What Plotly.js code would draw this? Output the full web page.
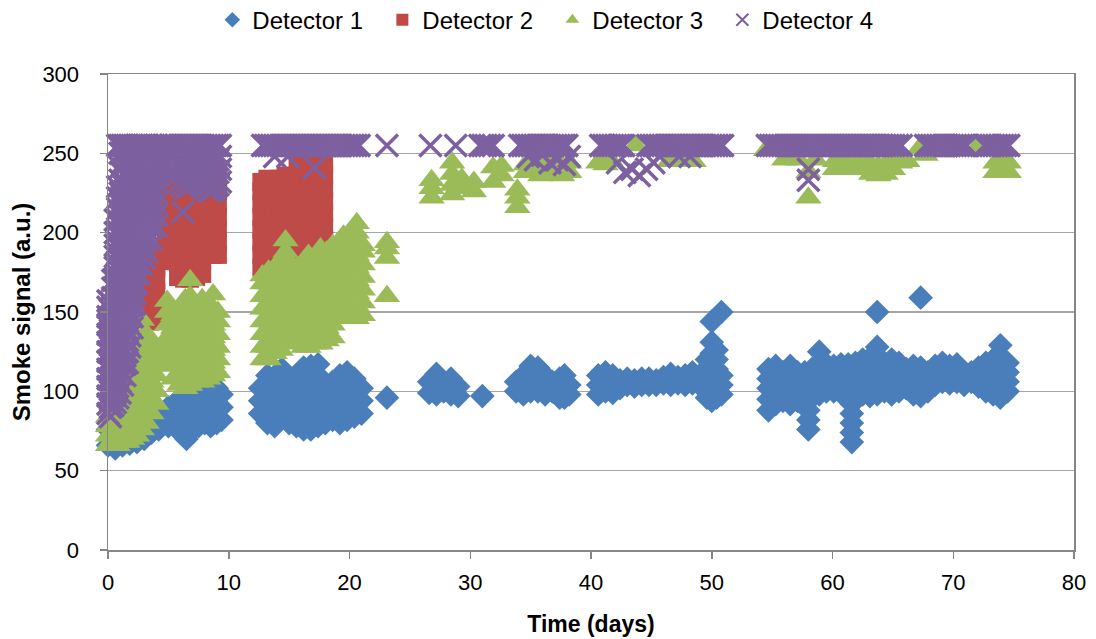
<!DOCTYPE html>
<html>
<head>
<meta charset="utf-8">
<script src="https://cdn.plot.ly/plotly-3.0.1.min.js"></script>
<style>
  html, body { margin: 0; padding: 0; background: #fff; }
  #chart { width: 1096px; height: 639px; }
</style>
</head>
<body>
<div id="chart"></div>
<script>
// ---- Data (time in days, smoke signal in a.u.) ----
// Each entry of detNDays is a time; the matching entry of detNSignal lists the readings at that time.

const det1Days = [
  0.0, 0.6, 1.2, 1.8, 2.4, 3.0, 3.6, 4.2,
  5.0, 5.5, 6.0, 6.5, 7.0, 7.5, 8.0, 8.5, 9.0, 9.4,
  12.6, 13.2, 13.8, 14.4, 15.0, 15.6, 16.2, 16.8, 17.4, 18.0, 18.6, 19.2, 19.8, 20.4, 21.0, 23.1,
  26.6, 27.2, 27.8, 28.4, 29.0, 31.0,
  33.8, 34.4, 35.0, 35.6, 36.2, 36.8, 37.4, 37.8, 38.2,
  40.6, 41.2, 41.8, 42.4, 43.0, 43.6, 44.2, 44.8, 45.4, 46.0, 46.6, 47.2, 47.8, 48.4, 49.0, 49.6, 50.0, 50.4, 50.8,
  54.7, 55.3, 55.9, 56.5, 57.1, 57.7, 58.0, 58.3, 58.9, 59.5, 60.1, 60.7, 61.3, 61.6, 61.9, 62.5, 63.1, 63.7,
  64.3, 64.9, 65.5, 66.1, 66.7, 67.3, 67.9, 68.5, 69.1, 69.7, 70.3, 70.9, 71.5, 72.1, 72.7, 73.3, 73.9, 74.5
];
const det1Signal = [
  [66, 76], [64, 70], [66, 72], [67, 72], [68, 74], [70, 76, 82], [74, 80, 86], [76, 82, 88],
  [78, 84, 90], [80, 86, 92], [74, 82, 90, 96], [70, 78, 86, 94], [76, 84, 92, 98], [78, 86, 94, 100],
  [80, 88, 96, 102], [78, 86, 94, 101], [80, 88, 96, 102], [82, 90, 98],
  [86, 94, 102], [80, 88, 96, 104, 110], [78, 85, 92, 100, 108], [84, 92, 100, 108, 114], [80, 88, 96, 104],
  [78, 86, 94, 102, 110], [76, 84, 92, 100, 108, 115], [76, 84, 92, 100, 108, 116], [78, 86, 94, 102, 110, 117],
  [80, 88, 96, 104], [82, 90, 98, 106], [80, 88, 96, 104, 110], [82, 90, 98, 106, 112], [84, 92, 100, 108],
  [86, 94, 102], [96],
  [99, 106], [98, 104, 111], [100, 106], [98, 104, 108], [97, 103], [97],
  [100, 106], [98, 104, 110], [100, 106, 112, 116], [100, 106, 112, 115], [98, 104, 110], [100, 106],
  [96, 102, 108], [96, 102, 110], [98, 104],
  [98, 104, 110], [100, 106, 112], [99, 105, 110], [102, 107], [104, 108], [103, 107], [104, 108], [104, 108],
  [104, 107], [105, 109], [104, 108, 111], [105, 109], [104, 110], [105, 109, 112], [104, 110],
  [96, 102, 108, 114, 120], [94, 100, 106, 112, 118, 124, 131, 144], [96, 102, 108, 114, 120, 126], [98, 104, 110, 150],
  [88, 95, 102, 108, 114], [92, 98, 104, 110, 116], [94, 100, 106, 112], [92, 98, 104, 110, 116], [94, 100, 106, 112],
  [94, 100, 106, 112], [76, 82, 88], [96, 102, 108, 114], [98, 104, 110, 117, 125], [100, 106, 112, 117],
  [100, 106, 112, 116], [99, 105, 111, 117], [98, 104, 110, 117], [68, 74, 80, 86, 92], [100, 106, 112, 118],
  [98, 104, 110, 116, 120], [97, 103, 109, 115, 121], [98, 104, 110, 116, 122, 128, 150],
  [100, 106, 112, 118], [98, 104, 110, 116, 120], [100, 106, 112, 118], [102, 108, 114], [98, 104, 110, 116],
  [97, 103, 109, 115, 159], [100, 106, 112], [104, 110, 116], [106, 112, 118], [105, 110, 116], [106, 112, 117],
  [104, 110], [106, 112], [103, 109, 115], [100, 106, 112, 118], [98, 104, 110, 116, 120],
  [96, 102, 108, 114, 122, 129], [100, 106, 112, 118]
];

const det2Days = [
  0.0, 0.5, 1.0, 1.5, 2.0, 2.5, 3.0, 3.5, 4.0,
  4.8, 5.3, 5.8, 6.3, 6.8, 7.3, 7.8, 8.3, 8.7, 9.1,
  12.7, 13.2, 13.7, 14.2, 14.7, 15.2, 15.7, 16.2, 16.7, 17.2, 17.6, 17.9
];
const det2Signal = [
  [140, 148], [136, 146, 156], [140, 150, 160], [145, 155, 165], [148, 158, 168], [150, 158, 166, 176],
  [146, 154, 162, 170, 178], [144, 152, 160, 168, 176, 184], [146, 154, 162, 170, 178, 186],
  [183, 190, 198, 206, 214, 222, 230], [182, 188, 196, 204, 212, 220, 228, 236],
  [172, 180, 188, 196, 204, 212, 220, 228], [171, 178, 186, 194, 202, 210, 218, 226],
  [171, 178, 186, 194, 202, 210, 218, 226], [172, 180, 188, 196, 204, 212, 220, 228],
  [174, 182, 190, 198, 206, 214, 222, 230], [186, 194, 202, 210, 218, 226, 234],
  [186, 194, 202, 210, 218, 226, 234, 240], [186, 194, 202, 210, 218, 226, 234, 240],
  [178, 186, 194, 202, 210, 218, 226, 232], [180, 188, 196, 204, 212, 220, 228, 234],
  [184, 192, 200, 208, 216, 224, 232], [186, 194, 202, 210, 218, 226, 234],
  [188, 196, 204, 212, 220, 228, 236], [186, 194, 202, 210, 218, 226, 234],
  [188, 196, 204, 212, 220, 228, 236, 242], [190, 198, 206, 214, 222, 230, 238, 242],
  [192, 200, 208, 216, 224, 232, 240], [192, 200, 208, 216, 224, 232, 240],
  [194, 202, 210, 218, 226, 234, 242], [196, 204, 212, 220, 228, 236, 242]
];

const det3Days = [
  0.0, 0.4, 0.8, 1.2, 1.6, 2.0, 2.4, 2.8, 3.2, 3.6, 4.0,
  4.9, 5.4, 5.9, 6.4, 6.8, 7.3, 7.8, 8.3, 8.7, 9.1,
  12.8, 13.3, 13.8, 14.3, 14.7, 15.2, 15.7, 16.2, 16.6, 17.1, 17.6, 18.1, 18.6, 19.1, 19.5, 20.0, 20.6, 21.1, 23.1,
  26.8, 28.5, 29.3, 30.3, 31.9, 32.6, 33.9, 34.6, 35.2, 35.8, 36.0, 36.4, 37.0, 37.6, 38.2,
  40.6, 41.2, 41.6, 43.7, 46.5, 47.0, 47.2, 47.9, 48.5,
  54.5, 56.0, 56.6, 57.0, 57.2, 58.0, 58.6, 60.2, 60.8, 61.4, 62.0, 62.6, 63.0, 63.2, 63.8, 64.4, 65.0,
  65.6, 66.2, 67.2, 67.7, 71.9, 73.5, 74.0, 74.6
];
const det3Signal = [
  [66, 72, 78, 84], [68, 74, 80, 88], [66, 72, 78, 86, 92], [68, 74, 82, 90, 98], [68, 76, 84, 92, 102],
  [70, 78, 86, 96, 106, 116], [72, 80, 90, 100, 110, 120, 130], [76, 84, 94, 104, 114, 124, 134, 145],
  [80, 90, 100, 110, 120, 128, 136], [86, 96, 106, 116, 124, 132], [92, 100, 110, 118, 126],
  [118, 126, 134, 142, 150, 157], [108, 116, 124, 132, 140, 148], [104, 112, 120, 128, 136, 146, 152],
  [102, 110, 118, 126, 134, 142, 150, 158], [104, 112, 120, 128, 136, 144, 152, 160, 170],
  [106, 114, 122, 130, 138, 146, 154], [106, 114, 122, 130, 138, 146, 154, 158],
  [108, 116, 124, 132, 140, 148, 156], [110, 118, 126, 134, 142, 150, 161], [112, 120, 128, 136, 144, 150],
  [120, 128, 136, 144, 152, 160, 168, 173], [120, 128, 136, 144, 152, 160, 168, 176],
  [124, 132, 140, 148, 156, 164, 172, 178], [126, 134, 142, 150, 158, 166, 174, 182],
  [132, 140, 148, 156, 164, 172, 180, 188, 195], [132, 140, 148, 156, 164, 172, 180],
  [130, 138, 146, 154, 162, 170, 178], [128, 136, 144, 152, 160, 168, 176, 182],
  [128, 136, 144, 152, 160, 168, 176, 186], [130, 138, 146, 154, 162, 170, 178, 184],
  [130, 138, 146, 154, 162, 170, 178, 186, 190], [132, 140, 148, 156, 164, 172, 180, 188],
  [134, 142, 150, 158, 166, 174, 182, 192], [146, 154, 162, 170, 178, 186, 194],
  [148, 156, 164, 172, 180, 188, 198], [146, 154, 162, 170, 178, 186, 194, 200],
  [146, 154, 162, 170, 178, 186, 194, 200, 206], [148, 156, 164, 172, 180, 188, 192], [160, 184, 190, 194],
  [222, 228, 233], [224, 230, 237, 244], [228, 234], [226, 232], [232, 241], [236, 242], [216, 222, 227],
  [238, 243], [240, 246], [236, 242], [255], [238, 244], [240, 246], [236, 242], [238, 244],
  [244], [243], [246], [255], [245], [255], [245], [246], [245],
  [252], [246], [247], [255], [246], [222, 238], [246], [240, 245], [240, 246], [240, 245], [241, 246],
  [240, 245], [255], [237, 243], [236, 242], [237, 243], [240, 245],
  [244], [245], [253], [249], [253], [238, 244], [239, 245], [238, 244]
];

const det4Days = [
  0.0, 0.2, 0.4, 0.6, 0.8, 1.0, 1.2, 1.4, 1.6, 1.8, 2.0, 2.2, 2.4, 2.6, 2.8, 3.0, 3.2, 3.6, 4.0,
  4.4, 4.65, 4.9, 5.15, 5.4, 5.65, 5.9, 6.15, 6.2, 6.4, 6.65, 6.9, 7.15, 7.4, 7.65, 7.9, 8.15, 8.4, 8.65, 8.9, 9.1, 9.3,
  12.8, 13.3, 13.8, 14.3, 14.8, 14.9, 15.3, 15.8, 16.3, 16.8, 17.1, 17.3, 17.8, 18.3, 18.8, 19.3, 19.8, 20.3, 20.8, 23.1,
  26.7, 28.8, 30.8, 31.3, 31.9, 34.1, 34.6, 34.8, 35.1, 35.4, 35.6, 36.0, 36.1, 36.6, 37.1, 37.2, 37.6, 37.8, 38.0, 38.2,
  40.8, 41.3, 41.8, 42.2, 42.3, 42.7, 42.8, 43.4, 44.0, 44.6, 44.7, 45.2, 45.7, 46.2, 46.7, 47.2, 47.3, 47.7,
  48.2, 48.7, 49.2, 49.7, 50.2, 50.7, 50.9,
  54.6, 55.1, 55.6, 56.1, 56.6, 57.1, 57.6, 58.0, 58.1, 58.6, 59.1, 59.6, 60.1, 60.6, 61.1, 61.6, 62.1, 62.6,
  63.1, 63.6, 64.1, 64.6, 65.1, 65.7, 67.7, 68.2, 68.7, 69.2, 69.7, 70.2, 70.7, 71.1, 72.6, 73.1, 73.6, 74.1, 74.6
];
const det4Signal = [
  [86, 92, 97, 103, 108, 114, 119, 125, 131, 136, 142, 147, 153, 157],
  [84, 90, 95, 101, 107, 112, 118, 124, 129, 135, 140, 146, 151, 156],
  [91, 97, 102, 108, 114, 119, 125, 131, 137, 142, 148, 153, 159, 165, 170],
  [93, 99, 106, 112, 119, 126, 132, 139, 145, 152, 158, 165, 171, 178, 185, 192, 200, 208],
  [96, 103, 110, 117, 124, 131, 138, 145, 152, 159, 166, 173, 180, 187, 194, 201, 208, 215, 222, 229, 255],
  [99, 106, 113, 120, 127, 134, 141, 148, 155, 162, 169, 176, 183, 190, 197, 204, 211, 218, 225, 233, 241, 250, 255],
  [104, 111, 118, 125, 132, 139, 146, 153, 160, 167, 174, 181, 188, 195, 202, 209, 216, 223, 230, 237, 244, 250, 255],
  [110, 117, 124, 131, 138, 145, 152, 159, 166, 173, 180, 187, 194, 201, 208, 215, 222, 229, 236, 243, 249, 255],
  [118, 125, 132, 139, 146, 153, 160, 167, 174, 181, 188, 195, 202, 209, 216, 223, 230, 237, 244, 250, 255],
  [128, 135, 142, 149, 156, 163, 170, 177, 184, 191, 198, 205, 212, 219, 226, 233, 240, 247, 253, 255],
  [140, 147, 154, 161, 168, 175, 182, 189, 196, 203, 210, 217, 224, 231, 238, 245, 251, 255],
  [155, 162, 169, 176, 183, 190, 197, 204, 211, 218, 225, 232, 239, 246, 252, 255],
  [168, 175, 182, 189, 196, 203, 210, 217, 224, 231, 238, 245, 251, 255],
  [174, 181, 188, 195, 202, 209, 216, 223, 230, 237, 244, 250, 255],
  [180, 187, 194, 201, 208, 215, 222, 229, 236, 243, 249, 255],
  [184, 191, 198, 205, 212, 219, 226, 233, 240, 247, 253, 255],
  [188, 195, 202, 209, 216, 223, 230, 237, 244, 250, 255],
  [196, 203, 210, 217, 224, 231, 238, 245, 251, 255],
  [204, 211, 218, 225, 232, 239, 246, 252, 255],
  [244, 255], [240, 249, 255], [242, 250, 255], [239, 247, 255], [238, 246, 255], [235, 243, 251, 255],
  [232, 240, 248, 255], [230, 238, 246, 255], [213], [228, 236, 244, 252, 255], [229, 237, 245, 255],
  [230, 238, 246, 255], [233, 241, 249, 255], [232, 240, 248, 255], [231, 239, 247, 255], [230, 238, 246, 255],
  [228, 236, 244, 252, 255], [226, 234, 242, 250, 255], [227, 235, 243, 251, 255], [228, 236, 244, 255],
  [230, 238, 246, 255], [232, 240, 248, 255],
  [255], [255], [255, 248], [255], [255], [248], [255], [255], [255], [255], [241], [255], [255], [255],
  [255], [255], [255], [255], [255], [255],
  [255], [255], [255], [255], [255], [255], [255], [248], [255], [246], [255], [249], [255], [255, 244],
  [255], [246], [255], [243], [255], [248],
  [255], [255], [255], [244], [255], [255], [238], [240], [236], [240], [255], [255, 244], [255, 248], [255],
  [255], [255], [248], [255], [255, 248], [255], [255], [255], [255], [255], [255],
  [255], [255], [255], [255], [255], [255], [255], [240, 233], [255], [255], [255], [255], [255], [255],
  [255], [255], [255], [255], [255], [255], [255], [255], [255], [255], [255], [255], [255], [255],
  [255], [255], [255], [255], [255], [255], [255], [255], [255]
];

// Further Detector 4 readings at its saturation level (255), between the columns above
const det4SaturationLevel = 255;
const det4SaturatedDays = [
  13.05, 13.55, 14.05, 14.55, 15.05, 15.55, 16.05, 16.55, 17.05, 17.55, 18.05, 18.55, 19.05, 19.55, 20.05, 20.55,
  31.05, 31.6, 34.35, 34.85, 35.35, 35.85, 36.35, 36.85, 37.35, 37.8,
  41.05, 41.55, 42.05, 42.5, 44.95, 45.45, 45.95, 46.45, 46.95, 47.45, 47.95, 48.45, 48.95, 49.45, 49.95, 50.45,
  54.85, 55.35, 55.85, 56.35, 56.85, 57.35, 57.85, 58.35, 58.85, 59.35, 59.85, 60.35, 60.85, 61.35, 61.85,
  62.35, 62.85, 63.35, 63.85, 64.35, 64.85, 65.4, 67.95, 68.45, 68.95, 69.45, 69.95, 70.45, 70.9,
  72.85, 73.35, 73.85, 74.35
];

// ---- Build traces ----
function expand(days, signals) {
  const x = [], y = [];
  days.forEach((d, i) => signals[i].forEach(v => { x.push(d); y.push(v); }));
  return { x, y };
}

const s1 = expand(det1Days, det1Signal);
const s2 = expand(det2Days, det2Signal);
const s3 = expand(det3Days, det3Signal);
const s4 = expand(det4Days, det4Signal);
det4SaturatedDays.forEach(d => { s4.x.push(d); s4.y.push(det4SaturationLevel); });

const traces = [
  { name: 'Detector 1', x: s1.x, y: s1.y, type: 'scatter', mode: 'markers', cliponaxis: false,
    marker: { symbol: 'diamond', size: 19, color: '#4A7EBB', line: { width: 0 } } },
  { name: 'Detector 2', x: s2.x, y: s2.y, type: 'scatter', mode: 'markers', cliponaxis: false,
    marker: { symbol: 'square', size: 18, color: '#BE4B48', line: { width: 0 } } },
  { name: 'Detector 3', x: s3.x, y: s3.y, type: 'scatter', mode: 'markers', cliponaxis: false,
    marker: { symbol: 'triangle-up', size: 23, color: '#9BBB59', line: { width: 0 } } },
  { name: 'Detector 4', x: s4.x, y: s4.y, type: 'scatter', mode: 'markers', cliponaxis: false,
    marker: { symbol: 'x-thin', size: 22, color: '#7D60A0', line: { width: 3.5, color: '#7D60A0' } } }
];

const FONT = 'Liberation Sans, Arial, sans-serif';

const layout = {
  width: 1096, height: 639,
  margin: { l: 108, r: 22, t: 74, b: 89, autoexpand: false },
  paper_bgcolor: '#ffffff', plot_bgcolor: '#ffffff',
  font: { family: FONT, size: 22, color: '#000000' },
  showlegend: true,
  hovermode: false,
  legend: {
    orientation: 'h', x: 0.46, xanchor: 'center', y: 1.113, yanchor: 'middle',
    font: { family: FONT, size: 24, color: '#000000' },
    itemsizing: 'constant', entrywidth: 125, entrywidthmode: 'pixels',
    traceorder: 'normal', bgcolor: 'rgba(0,0,0,0)'
  },
  xaxis: {
    range: [0, 80], tick0: 0, dtick: 10, showgrid: false, zeroline: false,
    showline: true, linecolor: '#868686', linewidth: 1.5, mirror: true,
    ticks: 'outside', ticklen: 7, tickcolor: '#868686', tickwidth: 1.5, ticklabelstandoff: 5,
    tickfont: { family: FONT, size: 22, color: '#000000' },
    title: { text: '<b>Time (days)</b>', font: { family: FONT, size: 23, color: '#000000' }, standoff: 22 }
  },
  yaxis: {
    range: [0, 300], tick0: 0, dtick: 50, showgrid: true, gridcolor: '#A6A6A6', gridwidth: 1.5, zeroline: false,
    showline: true, linecolor: '#868686', linewidth: 1.5, mirror: true,
    ticks: 'outside', ticklen: 7, tickcolor: '#868686', tickwidth: 1.5, ticklabelstandoff: 16,
    tickfont: { family: FONT, size: 22, color: '#000000' },
    title: { text: '<b>Smoke signal (a.u.)</b>', font: { family: FONT, size: 24, color: '#000000' }, standoff: 5 }
  }
};

Plotly.newPlot('chart', traces, layout, { staticPlot: true, displayModeBar: false });
</script>
</body>
</html>
